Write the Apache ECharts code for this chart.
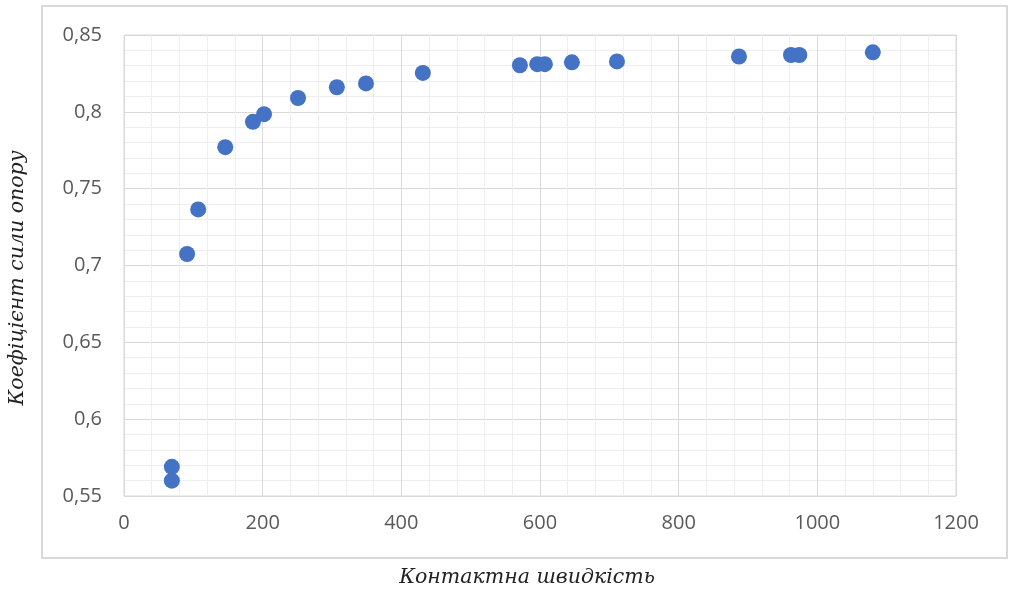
<!DOCTYPE html>
<html><head><meta charset="utf-8">
<script src="https://cdn.jsdelivr.net/npm/echarts@6/dist/echarts.min.js"></script>
<style>html,body{margin:0;padding:0;background:#fff}#c{width:1009px;height:594px}</style>
</head><body><div id="c"></div>
<script>
const speedX = [69, 69, 91, 107, 146, 186, 202, 251, 307, 349, 431, 571, 596, 607, 646, 711, 887, 962, 974, 1080];
const dragY = [0.569, 0.560, 0.7075, 0.7365, 0.777, 0.7935, 0.7985, 0.809, 0.816, 0.8185, 0.8253, 0.8303, 0.831, 0.831, 0.8322, 0.8328, 0.836, 0.837, 0.837, 0.8387];
const xTitle = 'Контактна швидкість';
const yTitle = 'Коефіцієнт сили опору';

const chart = echarts.init(document.getElementById('c'));
const fmt = v => String(+v.toFixed(2)).replace('.', ',');
const titleFont = {fontFamily: 'DejaVu Serif', fontStyle: 'italic', fontSize: 20.5, fill: '#222', align: 'center', verticalAlign: 'middle'};
chart.setOption({
  animation: false,
  graphic: [
    {type: 'rect', shape: {x: 42, y: 6, width: 965, height: 552}, style: {fill: 'none', stroke: '#d9d9d9', lineWidth: 2}, z: -1},
    {type: 'text', x: 527, y: 578, style: Object.assign({text: xTitle}, titleFont)},
    {type: 'text', x: 18, y: 278, rotation: Math.PI / 2, style: Object.assign({text: yTitle}, titleFont)}
  ],
  grid: {left: 124, right: 53, top: 35, bottom: 98, show: true, borderColor: '#d9d9d9', borderWidth: 1},
  xAxis: {
    type: 'value', min: 0, max: 1200, interval: 200,
    axisLine: {show: false}, axisTick: {show: false},
    axisLabel: {color: '#595959', fontSize: 20, fontFamily: 'Open Sans', margin: 17, formatter: v => String(v)},
    splitLine: {lineStyle: {color: '#d9d9d9'}},
    minorTick: {show: false, splitNumber: 5},
    minorSplitLine: {show: true, lineStyle: {color: '#eeeeee'}}
  },
  yAxis: {
    type: 'value', min: 0.55, max: 0.85, interval: 0.05,
    axisLine: {show: false}, axisTick: {show: false},
    axisLabel: {color: '#595959', fontSize: 20, fontFamily: 'Open Sans', margin: 22, formatter: fmt},
    splitLine: {lineStyle: {color: '#d9d9d9'}},
    minorTick: {show: false, splitNumber: 5},
    minorSplitLine: {show: true, lineStyle: {color: '#eeeeee'}}
  },
  series: [{
    type: 'scatter', symbolSize: 16,
    itemStyle: {color: '#4472C4', opacity: 1},
    data: speedX.map((x, i) => [x, dragY[i]])
  }]
});
</script></body></html>
